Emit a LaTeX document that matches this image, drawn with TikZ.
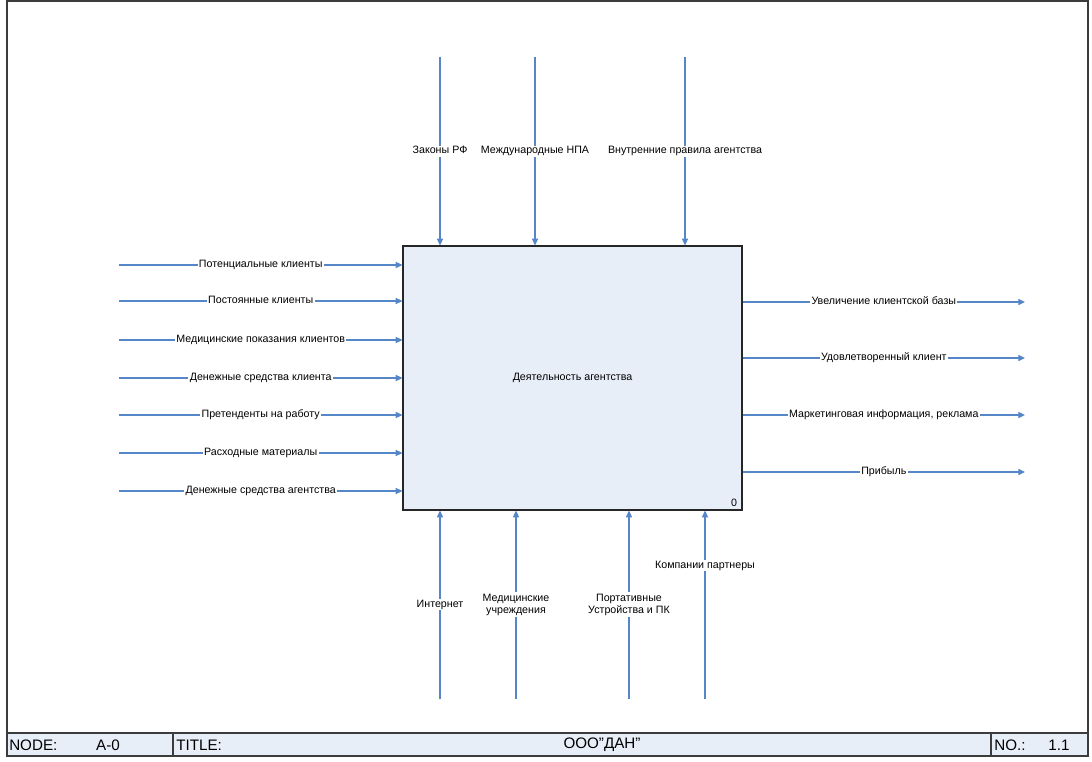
\documentclass[tikz,border=0pt]{standalone}
\usepackage{fontspec}
\setmainfont{Liberation Sans}
\usetikzlibrary{arrows.meta}

\definecolor{flowblue}{RGB}{84,134,200}
\definecolor{boxblue}{RGB}{232,238,248}
\definecolor{framegray}{RGB}{60,60,60}

\begin{document}
\begin{tikzpicture}[x=0.75pt,y=-0.75pt,>={Triangle[length=5pt,width=4.6pt]},
  flow/.style={->,draw=flowblue,line width=0.8pt},
  lbl/.style={fill=white,inner sep=1pt,align=center,
    text height=5.2pt,text depth=1pt,
    font=\fontsize{8}{9.4}\selectfont},
  lbl2/.style={fill=white,inner sep=1pt,align=center,
    font=\fontsize{8}{9.4}\selectfont},
  act/.style={draw=black!85,fill=boxblue,line width=0.9pt,
    minimum width=254.25pt,minimum height=198pt,
    font=\fontsize{8}{9.4}\selectfont},
  strip text/.style={inner sep=0pt,font=\fontsize{11.4}{13}\selectfont}]

  \useasboundingbox (0,0) rectangle (1092,762);

  % frame and title strip
  \draw[framegray,fill=boxblue,line width=0.9pt] (7,733) rectangle (1088,756);
  \draw[framegray,line width=0.9pt] (7,1) rectangle (1088,756);
  \draw[framegray,line width=0.9pt] (173,733) -- (173,756)
    (991,733) -- (991,756);
  \node[strip text,anchor=west] (nodelbl) at (9,745) {NODE:};
  \node[strip text] (nodeno) at (108,745) {A-0};
  \node[strip text,anchor=west] (titlelbl) at (176,745) {TITLE:};
  \node[strip text] (title) at (602,745) {ООО”ДАН”};
  \node[strip text,anchor=west] (nolbl) at (994,745) {NO.:};
  \node[strip text] (no) at (1059,745) {1.1};

  % activity box
  \node[act] (A0) at (572.5,378) {Деятельность агентства};
  \node[lbl,fill=none,anchor=south east] (A0num) at ([xshift=-3pt,yshift=1pt]A0.south east) {0};

  % controls
  \coordinate (c1) at (440,57);
  \coordinate (c2) at (535,57);
  \coordinate (c3) at (685,57);
  \draw[flow] (c1) -- node[lbl] {Законы РФ} (c1 |- A0.north);
  \draw[flow] (c2) -- node[lbl] {Международные НПА} (c2 |- A0.north);
  \draw[flow] (c3) -- node[lbl] {Внутренние правила агентства} (c3 |- A0.north);

  % inputs
  \coordinate (i1) at (119,265);
  \coordinate (i2) at (119,301);
  \coordinate (i3) at (119,340);
  \coordinate (i4) at (119,378);
  \coordinate (i5) at (119,415);
  \coordinate (i6) at (119,453);
  \coordinate (i7) at (119,491);
  \draw[flow] (i1) -- node[lbl] {Потенциальные клиенты} (i1 -| A0.west);
  \draw[flow] (i2) -- node[lbl] {Постоянные клиенты} (i2 -| A0.west);
  \draw[flow] (i3) -- node[lbl] {Медицинские показания клиентов} (i3 -| A0.west);
  \draw[flow] (i4) -- node[lbl] {Денежные средства клиента} (i4 -| A0.west);
  \draw[flow] (i5) -- node[lbl] {Претенденты на работу} (i5 -| A0.west);
  \draw[flow] (i6) -- node[lbl] {Расходные материалы} (i6 -| A0.west);
  \draw[flow] (i7) -- node[lbl] {Денежные средства агентства} (i7 -| A0.west);

  % outputs
  \coordinate (o1) at (1025,302);
  \coordinate (o2) at (1025,358);
  \coordinate (o3) at (1025,415);
  \coordinate (o4) at (1025,472);
  \draw[flow] (o1 -| A0.east) -- node[lbl] {Увеличение клиентской базы} (o1);
  \draw[flow] (o2 -| A0.east) -- node[lbl] {Удовлетворенный клиент} (o2);
  \draw[flow] (o3 -| A0.east) -- node[lbl] {Маркетинговая информация, реклама} (o3);
  \draw[flow] (o4 -| A0.east) -- node[lbl] {Прибыль} (o4);

  % mechanisms
  \coordinate (m1) at (440,699);
  \coordinate (m2) at (516,699);
  \coordinate (m3) at (629,699);
  \coordinate (m4) at (705,699);
  \draw[flow] (m1) -- node[lbl] {Интернет} (m1 |- A0.south);
  \draw[flow] (m2) -- node[lbl2] {Медицинские\\учреждения} (m2 |- A0.south);
  \draw[flow] (m3) -- node[lbl2] {Портативные\\Устройства и ПК} (m3 |- A0.south);
  \draw[flow] (m4) -- node[lbl,pos=0.71] {Компании партнеры} (m4 |- A0.south);

\end{tikzpicture}
\end{document}
